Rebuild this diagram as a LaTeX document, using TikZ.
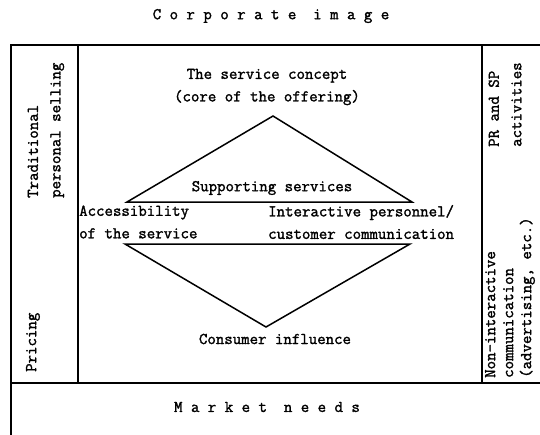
\documentclass[tikz,border=0pt]{standalone}
\usepackage{fontspec}
\usepackage{tikz}
\usetikzlibrary{positioning, calc}
\newfontfamily\typewriterfont{Latin Modern Mono}[AutoFakeBold=1.6]
\newcommand{\typewriter}{\typewriterfont\bfseries\fontsize{16.4}{22.5}\selectfont}
\newcommand{\typewritertight}{\typewriterfont\bfseries\fontsize{16.4}{18}\selectfont}
\tikzstyle{txt} = [font=\typewriter, inner sep=0pt, text=black]
\tikzstyle{side} = [txt, rotate=90, anchor=west, align=left]
\tikzstyle{frame} = [line width=1.6pt, line cap=rect]
\tikzstyle{edge} = [line width=1.5pt, line join=miter]

\begin{document}
\begin{tikzpicture}[x=1pt, y=-1pt]
    \useasboundingbox (0,0) rectangle (540,434);
    % Outer frame and columns
    \draw[frame] (11,434) -- (11,45) -- (540,45);
    \draw[frame] (78,45) -- (78,383);
    \draw[frame] (482,45) -- (482,383);
    \draw[frame] (11,383) -- (540,383);

    % Headings
    \node[txt] (corp) at (271,16) {C o r p o r a t e \ i m a g e};
    \node[txt] (market) at (267,407) {M a r k e t \ n e e d s};

    % Diamond
    \coordinate (apex) at (273,116);
    \coordinate (ul) at (127,202);
    \coordinate (ur) at (412,202);
    \coordinate (ll) at (125,244);
    \coordinate (lr) at (410,244);
    \coordinate (foot) at (266,327);
    \draw[edge] (ul) -- (apex) -- (ur) -- cycle;
    \draw[edge] (ll) -- (lr) -- (foot) -- cycle;

    % Inner labels
    \node[txt, align=center] (concept) at (267,87) {The service concept\\(core of the offering)};
    \node[txt] (support) at (272,188) {Supporting services};
    \node[txt, anchor=west, align=left] (access) at (79,222) {Accessibility\\of the service};
    \node[txt, anchor=west, align=left] (interact) at (268,222) {Interactive personnel/\\customer communication};
    \node[txt] (influence) at (275,339) {Consumer influence};

    % Side columns
    \node[side] (selling) at (46,198) {Traditional\\personal selling};
    \node[side] (pricing) at (33,372) {Pricing};
    \node[side] (prsp) at (505,147) {PR and SP\\activities};
    \node[side, font=\typewritertight] (nonint) at (510,378) {Non-interactive\\communication\\(advertising, etc.)};
\end{tikzpicture}
\end{document}
